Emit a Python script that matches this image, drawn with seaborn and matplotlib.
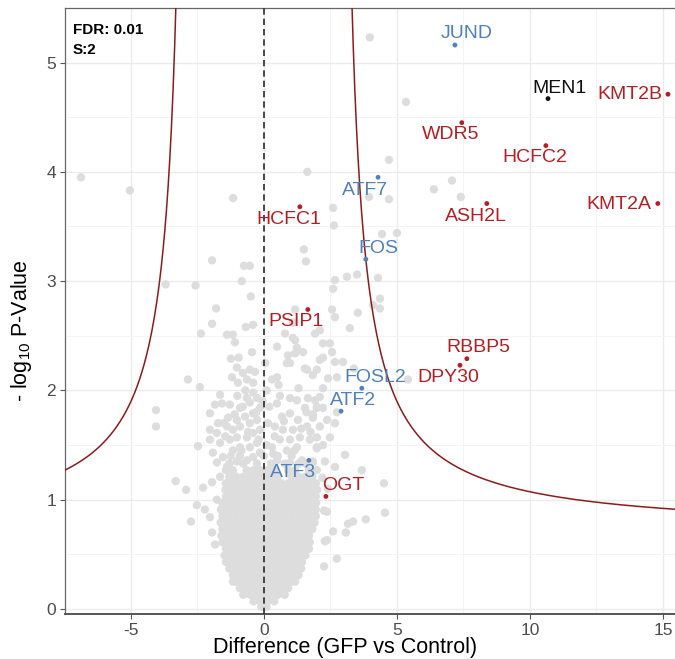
import numpy as np
import pandas as pd
import matplotlib
matplotlib.use("Agg")
import matplotlib.pyplot as plt
import seaborn as sns

# ---------------- data ----------------
# dense core of non-significant proteins: y level -> x positions
core_rows = {
    0.02: [-0.10, 0.00, 0.10],
    0.07: [-0.39, -0.13, 0.13, 0.39],
    0.13: [-0.78, -0.52, -0.26, 0.00, 0.26, 0.52, 0.78],
    0.19: [-0.91, -0.65, -0.39, -0.13, 0.13, 0.39, 0.65, 0.91],
    0.25: [-1.17, -1.04, -0.78, -0.52, -0.26, 0.00, 0.26, 0.52, 0.78, 1.04, 1.17],
    0.31: [-1.17, -0.91, -0.65, -0.39, -0.13, 0.13, 0.39, 0.65, 0.91, 1.17, 1.30],
    0.37: [-1.30, -1.04, -0.78, -0.52, -0.26, 0.00, 0.26, 0.52, 0.78, 1.04, 1.30, 1.40],
    0.43: [-1.43, -1.17, -0.91, -0.65, -0.39, -0.13, 0.13, 0.39, 0.65, 0.91, 1.17, 1.43],
    0.49: [-1.48, -1.30, -1.04, -0.78, -0.52, -0.26, 0.00, 0.26, 0.52, 0.78, 1.04, 1.30, 1.56],
    0.55: [-1.43, -1.17, -0.91, -0.65, -0.39, -0.13, 0.13, 0.39, 0.65, 0.91, 1.17, 1.43, 1.69],
    0.61: [-1.56, -1.30, -1.04, -0.78, -0.52, -0.26, 0.00, 0.26, 0.52, 0.78, 1.04, 1.30, 1.56, 1.72],
    0.67: [-1.60, -1.43, -1.17, -0.91, -0.65, -0.39, -0.13, 0.13, 0.39, 0.65, 0.91, 1.17, 1.43, 1.69],
    0.73: [-1.56, -1.30, -1.04, -0.78, -0.52, -0.26, 0.00, 0.26, 0.52, 0.78, 1.04, 1.30, 1.56, 1.82],
    0.79: [-1.63, -1.43, -1.17, -0.91, -0.65, -0.39, -0.13, 0.13, 0.39, 0.65, 0.91, 1.17, 1.43, 1.69, 1.90],
    0.85: [-1.56, -1.30, -1.04, -0.78, -0.52, -0.26, 0.00, 0.26, 0.52, 0.78, 1.04, 1.30, 1.56, 1.82, 1.95],
    0.91: [-1.62, -1.43, -1.17, -0.91, -0.65, -0.39, -0.13, 0.13, 0.39, 0.65, 0.91, 1.17, 1.43, 1.69, 1.95],
    0.97: [-1.56, -1.30, -1.04, -0.78, -0.52, -0.26, 0.00, 0.26, 0.52, 0.78, 1.04, 1.30, 1.56, 1.82, 1.96],
    1.03: [-1.43, -1.17, -0.91, -0.65, -0.39, -0.13, 0.13, 0.39, 0.65, 0.91, 1.17, 1.43, 1.69, 1.95],
    1.09: [-1.45, -1.30, -1.04, -0.78, -0.52, -0.26, 0.00, 0.26, 0.52, 0.78, 1.04, 1.30, 1.56, 1.82, 2.00],
    1.15: [-1.43, -1.17, -0.91, -0.65, -0.39, -0.13, 0.13, 0.39, 0.65, 0.91, 1.17, 1.43, 1.69, 1.95],
    1.21: [-1.30, -1.04, -0.78, -0.52, -0.26, 0.00, 0.26, 0.52, 1.04, 1.30, 1.56, 1.82],
    1.27: [-1.43, -1.17, -0.65, -0.39, -0.13, 0.13, 0.39, 0.91, 1.17, 1.69],
    1.33: [-1.30, -0.78, -0.26, 0.26, 0.78, 1.30, 1.56],
    1.40: [-0.91, 0.00, 0.52, 1.04],
}

# scattered non-significant proteins
scatter_x = [
    -6.88, -5.04, -1.16, 1.63, 2.60, 2.63, 1.50, 1.58, -1.95, -0.75, -0.53, -0.83,
    -3.70, -2.57, 2.67, 2.60, -0.49, -1.80, 1.17, 2.56, -1.95, -0.68, -0.41,
    3.98, 5.34, 4.70, 7.07, 6.39, 7.40, 4.70, 3.95, 4.44, 5.00, 3.12, 3.50, 4.29,
    4.36, 4.10, 4.36, 3.53, 2.67, 3.23, 5.41, 3.38, 2.97,
    1.92, 2.22, 2.48, 2.56, 2.22, 2.67, 1.99, 2.41, 2.74, 2.22, 2.10, 1.92, 1.99,
    2.22, 2.74, 1.84, 2.37, 2.67, 2.10, 2.48, 1.99, 2.22, 1.99, 3.05, 2.29, 2.67,
    1.84, 1.99,
    -2.37, -1.39, -1.17, -1.09, -1.24, -2.86, -2.41, -1.20, -0.98, -0.79, -0.53,
    -0.34, -0.64, -0.41, -1.65, -1.84, -1.58, -1.28, -0.90, -0.64, -0.53, -0.26,
    -0.15, -0.41, -0.71, -1.02, -1.35, -2.03, -4.06, -4.06, -1.73, -2.03, -1.77,
    -1.39, -1.17, -0.90, -0.53, -0.26, -2.03, -1.65, -1.28, -1.02, -0.64, -0.41,
    -0.15, -2.48, -1.92, -1.54, -1.17, -0.90, -0.53, -0.26, -1.77, -1.39, -1.02,
    -0.64, -0.41, -0.15,
    0.30, 0.49, 0.98, 0.90, 1.17, 1.24, 1.47, 1.54, 1.84, 1.09, 0.49, 0.98, 1.24,
    1.65, 1.54, 1.99, 0.68, 0.98, 1.28, 1.84, 0.41, 0.71, 1.09, 1.62, 0.60, 0.98,
    1.35, 1.73, 0.30, 0.86, 1.24, 1.99, 0.49, 0.98, 1.43, 1.84,
    -1.02, 0.49, 0.79, 1.17, 0.86, 1.62, 2.10, 1.09, 2.10,
    -3.32, -2.93, -2.74, -2.29, -1.95, -1.65, -2.52, -2.22, -2.03, -1.95, -1.77,
    -1.84,
    4.51, 2.26, 4.55, 3.83, 3.35, 3.16, 2.60, 3.08, 2.29, 2.74, 2.26, 1.92, 3.68,
    2.20, 2.40, 2.37, 2.37,
    -1.10, -0.80, -0.30, -0.05, -1.50, -0.70, -0.40, -1.00, 0.10, 0.15, 0.10,
    0.60, 0.75, 0.40, 1.60, 1.40, -1.25, -0.60, -0.20, 0.35, 1.15, 1.75, -1.45,
    -0.85, 0.20, 0.55, 1.30, -0.95, -0.45, 0.05,
]
scatter_y = [
    3.95, 3.83, 3.76, 4.00, 3.67, 3.51, 3.29, 3.18, 3.19, 3.14, 3.14, 3.00,
    2.97, 2.96, 3.01, 2.93, 2.86, 2.75, 2.74, 2.74, 2.61, 2.58, 2.60,
    5.23, 4.64, 4.11, 3.92, 3.84, 3.77, 3.75, 3.77, 3.43, 3.44, 3.04, 3.06, 3.03,
    2.84, 2.78, 2.75, 2.71, 2.67, 2.57, 2.10, 2.20, 2.26,
    2.52, 2.43, 2.43, 2.35, 2.30, 2.26, 2.19, 2.11, 2.12, 2.02, 1.94, 1.91, 1.85,
    1.84, 1.80, 1.78, 1.73, 1.70, 1.67, 1.57, 1.57, 1.50, 1.47, 1.41, 1.35, 1.30,
    1.35, 1.27,
    2.52, 2.51, 2.51, 2.44, 2.29, 2.10, 2.03, 2.12, 2.07, 2.16, 2.19,
    2.17, 2.10, 2.07, 1.96, 1.87, 1.88, 1.87, 1.84, 1.93, 1.89, 1.93,
    1.84, 1.79, 1.76, 1.73, 1.75, 1.79, 1.82, 1.67, 1.70, 1.64, 1.61,
    1.67, 1.64, 1.67, 1.70, 1.73, 1.55, 1.52, 1.55, 1.57, 1.57, 1.61,
    1.64, 1.49, 1.43, 1.39, 1.45, 1.48, 1.48, 1.52, 1.34, 1.30, 1.35,
    1.36, 1.39, 1.43,
    2.10, 2.12, 2.25, 2.32, 2.34, 2.39, 2.35, 2.20, 2.14, 2.48, 1.88, 1.93, 1.91,
    1.93, 1.84, 1.84, 1.76, 1.79, 1.73, 1.75, 1.67, 1.64, 1.64, 1.67, 1.55, 1.55,
    1.57, 1.55, 1.48, 1.45, 1.48, 1.48, 1.36, 1.34, 1.36, 1.34,
    2.21, 2.40, 2.52, 2.46, 2.25, 2.19, 2.28, 2.62, 2.55,
    1.17, 1.09, 0.80, 1.11, 1.16, 1.21, 0.95, 0.91, 0.84, 0.70, 1.00,
    0.59,
    1.15, 0.90, 0.88, 0.82, 0.80, 0.78, 0.71, 0.70, 0.62, 0.46, 0.39, 1.06, 1.27,
    1.20, 1.10, 0.89, 0.63,
    1.78, 1.85, 1.80, 1.90, 1.70, 2.00, 1.98, 1.95, 2.00, 1.70, 1.50,
    1.95, 1.72, 1.58, 1.80, 1.65, 1.40, 1.62, 1.55, 1.42, 1.45, 1.62, 1.58,
    1.45, 1.85, 2.05, 2.02, 2.30, 2.35, 2.25,
]

# highlighted proteins
genes = ["JUND", "MEN1", "KMT2B", "WDR5", "HCFC2", "ATF7", "ASH2L", "KMT2A", "FOS",
         "HCFC1", "PSIP1", "RBBP5", "DPY30", "FOSL2", "ATF2", "ATF3", "OGT"]
gene_diff = [7.18, 10.68, 15.19, 7.44, 10.60, 4.29, 8.38, 14.81, 3.83,
             1.35, 1.65, 7.63, 7.37, 3.68, 2.90, 1.69, 2.33]
gene_logp = [5.16, 4.67, 4.71, 4.45, 4.24, 3.95, 3.71, 3.71, 3.20,
             3.68, 2.74, 2.29, 2.23, 2.02, 1.81, 1.36, 1.03]
gene_group = ["TF", "MEN1", "MLL", "MLL", "MLL", "TF", "MLL", "MLL", "TF",
              "MLL", "MLL", "MLL", "MLL", "TF", "TF", "TF", "MLL"]

# significance curve (FDR 0.01, s0 2): y = b + c / (|x| - x0)
curve_x0, curve_c, curve_b = 2.75, 2.70, 0.70

# ---------------- layout / style ----------------
label_offsets = {  # text centre relative to the point (data units)
    "JUND": (0.45, 0.11), "MEN1": (0.45, 0.09), "KMT2B": (-1.43, 0.0),
    "WDR5": (-0.41, -0.11), "HCFC2": (-0.41, -0.11), "ATF7": (-0.49, -0.12),
    "ASH2L": (-0.41, -0.12), "KMT2A": (-1.46, -0.01), "FOS": (0.46, 0.10),
    "HCFC1": (-0.42, -0.12), "PSIP1": (-0.45, -0.11), "RBBP5": (0.42, 0.10),
    "DPY30": (-0.45, -0.11), "FOSL2": (0.52, 0.10), "ATF2": (0.45, 0.10),
    "ATF3": (-0.60, -0.11), "OGT": (0.67, 0.10),
}
palette = {"MLL": "#B51F24", "TF": "#4F81BD", "MEN1": "#111111"}

sns.set_theme(style="white")
plt.rcParams["font.family"] = ["Liberation Sans", "DejaVu Sans"]
plt.rcParams["axes.unicode_minus"] = False
plt.rcParams["mathtext.fontset"] = "custom"
plt.rcParams["mathtext.rm"] = "Liberation Sans"
plt.rcParams["mathtext.it"] = "Liberation Sans:italic"
plt.rcParams["mathtext.bf"] = "Liberation Sans:bold"

W, H = 675, 659
fig = plt.figure(figsize=(W / 100, H / 100), dpi=100)
ax = fig.add_axes([65 / W, 1 - 614 / H, 612 / W, 606 / H])

bx, by = [], []
for yv, xs in core_rows.items():
    bx.extend(xs)
    by.extend([yv] * len(xs))
bx.extend(scatter_x)
by.extend(scatter_y)
bg = pd.DataFrame({"diff": bx, "logp": by})
hits = pd.DataFrame({"gene": genes, "diff": gene_diff, "logp": gene_logp, "group": gene_group})

# grid
ax.set_xlim(-7.48, 15.53)
ax.set_ylim(-0.046, 5.499)
ax.set_xticks([-5, 0, 5, 10, 15])
ax.set_yticks([0, 1, 2, 3, 4, 5])
ax.set_xticks([-2.5, 2.5, 7.5, 12.5], minor=True)
ax.set_yticks([0.5, 1.5, 2.5, 3.5, 4.5], minor=True)
ax.grid(which="major", color="#EBEBEB", linewidth=1.0, zorder=0)
ax.grid(which="minor", color="#F4F4F4", linewidth=0.7, zorder=0)
ax.set_axisbelow(True)

sns.scatterplot(data=bg, x="diff", y="logp", color="#DDDDDD", s=36,
                edgecolor="none", linewidth=0, ax=ax, zorder=2, legend=False)

# curve
xr = np.linspace(curve_x0 + 0.45, 15.6, 400)
yr = curve_b + curve_c / (xr - curve_x0)
ax.plot(xr, yr, color="#8E1B1B", linewidth=1.1, zorder=3)
ax.plot(-xr, yr, color="#8E1B1B", linewidth=1.1, zorder=3)

ax.axvline(0, color="#2A2A2A", linewidth=1.2, linestyle=(0, (3.8, 2.4)), zorder=3)

sns.scatterplot(data=hits, x="diff", y="logp", hue="group", palette=palette,
                s=12, edgecolor="none", linewidth=0, ax=ax, zorder=4, legend=False)

for g, xv, yv, grp in zip(genes, gene_diff, gene_logp, gene_group):
    dx, dy = label_offsets[g]
    ax.text(xv + dx, yv + dy, g, ha="center", va="center", fontsize=14,
            color=palette[grp], zorder=5)

# spines & ticks
ax.spines["right"].set_visible(False)
ax.spines["top"].set_color("#666666")
ax.spines["left"].set_color("#666666")
ax.spines["top"].set_linewidth(0.9)
ax.spines["left"].set_linewidth(0.9)
ax.spines["bottom"].set_color("#555555")
ax.spines["bottom"].set_linewidth(1.4)
ax.tick_params(axis="both", which="major", direction="out", length=3.5, width=0.8,
               color="#555555", labelcolor="#4D4D4D", labelsize=12.5, pad=3,
               bottom=True, left=True)
ax.tick_params(axis="both", which="minor", length=0)
ax.set_xlabel("")
ax.set_ylabel("")

fig.text(345 / W, 1 - 648 / H, "Difference (GFP vs Control)", ha="center",
         va="center", fontsize=15.5, color="black")
fig.text(22 / W, 1 - 331 / H, r"- log$_{\mathrm{10}}$ P-Value", ha="center",
         va="center", rotation=90, fontsize=15.5, color="black")

fig.text(73 / W, 1 - 30 / H, "FDR: 0.01", ha="left", va="center",
         fontsize=11, fontweight="bold", color="black")
fig.text(73 / W, 1 - 50 / H, "S:2", ha="left", va="center",
         fontsize=11, fontweight="bold", color="black")

fig.savefig("out.png", dpi=100)
